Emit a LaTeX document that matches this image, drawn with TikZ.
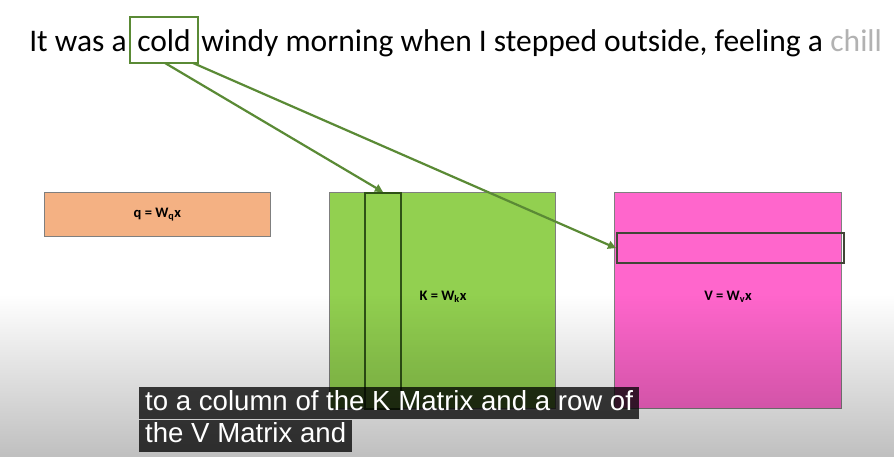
\documentclass[tikz,border=0pt]{standalone}
\usepackage{fontspec}
\setmainfont{Carlito}
\newfontfamily\capfont{Liberation Sans}
\usetikzlibrary{fadings,arrows.meta}
\definecolor{qorange}{HTML}{F4B183}
\definecolor{kgreen}{HTML}{92D050}
\definecolor{vpink}{HTML}{FF66CC}
\definecolor{arrgreen}{HTML}{5A8A35}
\definecolor{colgreen}{HTML}{2F5216}
\definecolor{rowdark}{HTML}{414536}
\definecolor{boxgray}{HTML}{7F7F7F}
\tikzfading[name=fadebottom, top color=transparent!100, bottom color=transparent!0]
\tikzset{
  sent/.style={inner sep=0pt, font=\fontsize{31.5}{36}\selectfont, anchor=base west},
  matbox/.style={draw=boxgray, line width=0.8pt, inner sep=0pt, anchor=north west},
  lbl/.style={font=\fontsize{14.5}{17}\selectfont\bfseries, inner sep=0pt},
  link/.style={draw=arrgreen, line width=2.2pt, -{Triangle[length=8pt,width=8pt]}},
  capbox/.style={fill=black, fill opacity=0.76, text opacity=1, text=white,
     font=\capfont\fontsize{27.6}{31}\selectfont, inner xsep=6pt, anchor=north west,
     text height=20pt, text depth=6pt, inner ysep=3pt}
}
\begin{document}
\begin{tikzpicture}[x=1pt,y=-1pt]
\useasboundingbox (0,0) rectangle (894,457);
\fill[white] (0,0) rectangle (894,457);
% sentence
\node[draw=arrgreen, line width=2.2pt, minimum width=68pt, text height=35pt, text depth=11pt,
      inner xsep=0pt, inner ysep=0pt, font=\fontsize{31.5}{36}\selectfont, anchor=base] (cold) at (164,52) {cold};
\node[sent, anchor=base east] (w1) at ([xshift=-2pt]cold.west |- cold.base) {It was a};
\node[sent] (w2) at ([xshift=2pt]cold.east |- cold.base) {windy morning when I stepped outside, feeling a};
\node[sent, text=black!30] (w3) at ([xshift=7pt]w2.base east) {chill};
% matrices
\node[matbox, fill=qorange, minimum width=226pt, minimum height=44pt] (q) at (44,192) {};
\node[lbl] (ql) at (q.center) {q = W\textsubscript{q}x};
\node[matbox, fill=kgreen, minimum width=226pt, minimum height=216pt] (K) at (329,192) {};
\node[matbox, fill=vpink, minimum width=227pt, minimum height=216pt] (V) at (614,192) {};
\node[draw=colgreen, line width=2pt, minimum width=36pt, minimum height=216pt, inner sep=0pt, anchor=north west] (kcol) at (364,192) {};
\node[draw=rowdark, line width=2.2pt, minimum width=227pt, minimum height=30pt, inner sep=0pt, anchor=north west] (vrow) at (616,232) {};
\node[lbl] (kl) at (443,297) {K = W\textsubscript{k}x};
\node[lbl] (vl) at (728,297) {V = W\textsubscript{v}x};
% arrows
\coordinate (a1) at (165,63);
\coordinate (a2) at (193,63);
\draw[link] (a1) -- (kcol.north);
\draw[link] (a2) -- (vrow.west);
% video fade
\fill[black, opacity=0.25, path fading=fadebottom] (0,295) rectangle (894,457);
% caption
\node[capbox] (c1) at (139,387) {to a column of the K Matrix and a row of};
\node[capbox] (c2) at (139,419.5) {the V Matrix and};
\end{tikzpicture}
\end{document}
